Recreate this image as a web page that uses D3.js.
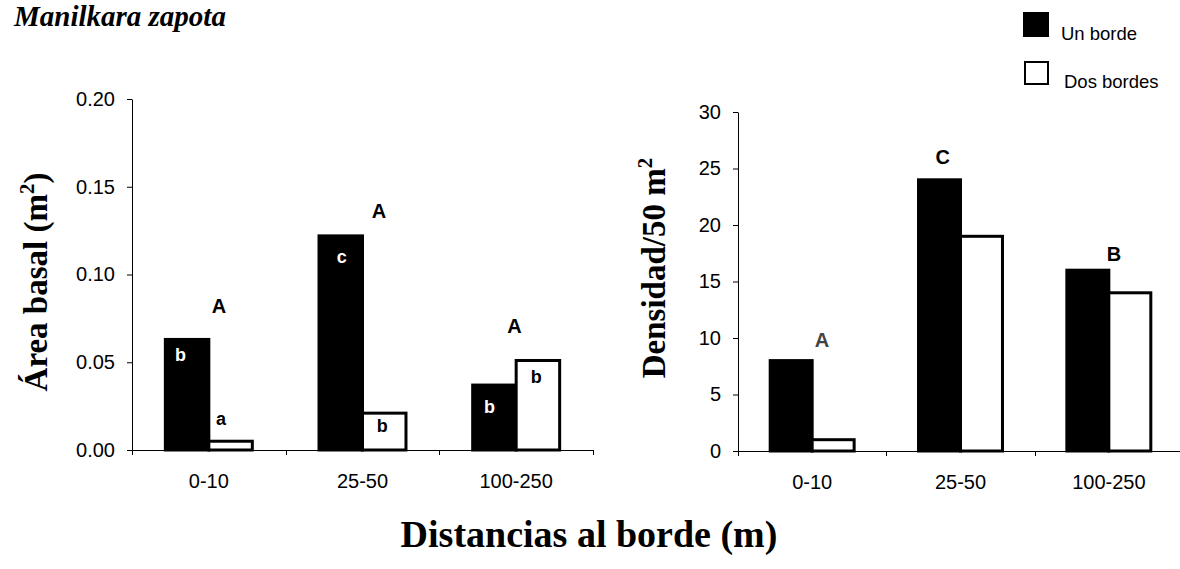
<!DOCTYPE html>
<html>
<head>
<meta charset="utf-8">
<script src="https://cdn.jsdelivr.net/npm/d3@7/dist/d3.min.js"></script>
<style>
  body { margin: 0; background: #fff; }
  svg { display: block; }
  .tick text { font-family: "Liberation Sans", Arial, sans-serif; font-size: 20px; fill: #000; }
  .tick line, .domain { stroke: #000; stroke-width: 1px; }
</style>
</head>
<body>
<svg id="chart" width="1180" height="569"></svg>
<script>
// ---- data ----
const categories = ["0-10", "25-50", "100-250"];
const seriesNames = ["Un borde", "Dos bordes"];

// Área basal (m²)
const areaUnBorde   = [0.063, 0.122, 0.037];
const areaDosBordes = [0.005, 0.021, 0.051];
const areaTicks     = [0, 0.05, 0.10, 0.15, 0.20];

// Densidad / 50 m²
const densUnBorde   = [8, 24, 16];
const densDosBordes = [1, 19, 14];
const densTicks     = [0, 5, 10, 15, 20, 25, 30];

// significance letters
const areaGroupLetters     = ["A", "A", "A"];
const areaUnBordeLetters   = ["b", "c", "b"];
const areaDosBordesLetters = ["a", "b", "b"];
const densGroupLetters     = ["A", "C", "B"];

// ---- layout ----
const SANS = '"Liberation Sans", Arial, sans-serif';
const SERIF = '"Liberation Serif", "Times New Roman", serif';
const groupFrac = 0.566;   // share of a category taken by its pair of bars

const panels = [
  {
    x: [132, 593], y: [450, 99], domain: [0, 0.20], ticks: areaTicks, fmt: d3.format(".2f"),
    un: areaUnBorde, dos: areaDosBordes,
    groupLetters: areaGroupLetters,
    // [fraction of category band, value in data units]
    groupPos: [[0.566, 0.078], [0.607, 0.132], [0.489, 0.0667]],
    groupColor: ["#000", "#000", "#000"],
    unLetters: areaUnBordeLetters, dosLetters: areaDosBordesLetters,
    // [dx from bar centre, dy from bar top] in px
    unLetterOff: [[-6.5, 22], [1, 27], [-5, 28]],
    dosLetterOff: [[-9.5, -16], [-2, 19], [-1.7, 23]]
  },
  {
    x: [738, 1183], y: [451, 112], domain: [0, 30], ticks: densTicks, fmt: d3.format("d"),
    un: densUnBorde, dos: densDosBordes,
    groupLetters: densGroupLetters,
    groupPos: [[0.566, 9.2], [0.38, 25.4], [0.535, 16.84]],
    groupColor: ["#444", "#000", "#000"],
    unLetters: null, dosLetters: null
  }
];

const svg = d3.select("#chart");
svg.append("rect").attr("width", 1180).attr("height", 569).attr("fill", "#fff");

panels.forEach(p => {
  const x = d3.scaleBand().domain(categories).range(p.x).paddingInner(0).paddingOuter(0);
  const bw = x.bandwidth();
  const xs = d3.scaleBand().domain(seriesNames)
    .range([bw * (1 - groupFrac) / 2, bw * (1 + groupFrac) / 2]).padding(0);
  const y = d3.scaleLinear().domain(p.domain).range(p.y);

  const g = svg.append("g");

  // y axis
  g.append("g")
    .attr("transform", `translate(${p.x[0]},0)`)
    .call(d3.axisLeft(y).tickValues(p.ticks).tickFormat(p.fmt).tickSize(5).tickSizeOuter(0).tickPadding(12));

  // bars
  const rows = categories.map((c, i) => ({ c, i, vals: [p.un[i], p.dos[i]] }));
  rows.forEach(r => {
    seriesNames.forEach((s, k) => {
      const v = r.vals[k];
      g.append("rect")
        .attr("x", x(r.c) + xs(s))
        .attr("y", y(v))
        .attr("width", xs.bandwidth())
        .attr("height", y(0) - y(v))
        .attr("fill", k === 0 ? "#000" : "#fff")
        .attr("stroke", "#000")
        .attr("stroke-width", 3);
    });
  });

  // x axis: baseline, category boundary ticks and labels
  const xa = g.append("g").attr("transform", `translate(0,${y(0)})`);
  xa.call(d3.axisBottom(x).tickSize(0).tickPadding(24));
  xa.select(".domain").attr("d", `M${p.x[0]},0.5H${p.x[1]}`);
  d3.range(categories.length + 1).forEach(j => {
    const xx = Math.round(p.x[0] + j * x.step()) + 0.5;
    xa.append("line").attr("x1", xx).attr("x2", xx).attr("y1", 0).attr("y2", 5)
      .attr("stroke", "#000").attr("stroke-width", 1);
  });

  // group letters
  p.groupLetters.forEach((t, i) => {
    g.append("text")
      .attr("x", x(categories[i]) + p.groupPos[i][0] * bw)
      .attr("y", y(p.groupPos[i][1]))
      .attr("text-anchor", "middle")
      .attr("font-family", SANS).attr("font-weight", "bold").attr("font-size", 20)
      .attr("fill", p.groupColor[i])
      .text(t);
  });

  // per-bar letters
  if (p.unLetters) {
    [[p.unLetters, p.unLetterOff, 0, p.un], [p.dosLetters, p.dosLetterOff, 1, p.dos]].forEach(([letters, off, k, vals]) => {
      letters.forEach((t, i) => {
        const cx = x(categories[i]) + xs(seriesNames[k]) + xs.bandwidth() / 2;
        const inside = off[i][1] > 0;
        g.append("text")
          .attr("x", cx + off[i][0])
          .attr("y", y(vals[i]) + off[i][1])
          .attr("text-anchor", "middle")
          .attr("font-family", SANS).attr("font-weight", "bold").attr("font-size", 18)
          .attr("fill", (k === 0 && inside) ? "#fff" : "#000")
          .text(t);
      });
    });
  }
});

// y axis titles
const yt1 = svg.append("text")
  .attr("transform", "translate(47,282) rotate(-90)")
  .attr("text-anchor", "middle")
  .attr("font-family", SERIF).attr("font-weight", "bold").attr("font-size", 33);
yt1.append("tspan").text("Área basal (m");
yt1.append("tspan").attr("dy", -13).attr("font-size", 21).text("2");
yt1.append("tspan").attr("dy", 13).text(")");

const yt2 = svg.append("text")
  .attr("transform", "translate(665,268) rotate(-90)")
  .attr("text-anchor", "middle")
  .attr("font-family", SERIF).attr("font-weight", "bold").attr("font-size", 33);
yt2.append("tspan").text("Densidad/50 m");
yt2.append("tspan").attr("dy", -13).attr("font-size", 21).text("2");

// x axis title
svg.append("text")
  .attr("x", 589).attr("y", 547)
  .attr("text-anchor", "middle")
  .attr("font-family", SERIF).attr("font-weight", "bold").attr("font-size", 38)
  .text("Distancias al borde (m)");

// species title
svg.append("text")
  .attr("x", 14).attr("y", 26)
  .attr("font-family", SERIF).attr("font-weight", "bold").attr("font-style", "italic").attr("font-size", 29)
  .text("Manilkara zapota");

// legend
const legend = svg.append("g");
const legendRows = [
  { name: seriesNames[0], fill: "#000", box: [1023, 12, 26, 25], tx: 1061, ty: 40 },
  { name: seriesNames[1], fill: "#fff", box: [1025, 62, 23, 22], tx: 1064, ty: 88 }
];
legendRows.forEach(r => {
  legend.append("rect")
    .attr("x", r.box[0]).attr("y", r.box[1]).attr("width", r.box[2]).attr("height", r.box[3])
    .attr("fill", r.fill).attr("stroke", "#000").attr("stroke-width", r.fill === "#000" ? 0 : 2);
  legend.append("text")
    .attr("x", r.tx).attr("y", r.ty)
    .attr("font-family", SANS).attr("font-size", 18.5)
    .text(r.name);
});
</script>
</body>
</html>
